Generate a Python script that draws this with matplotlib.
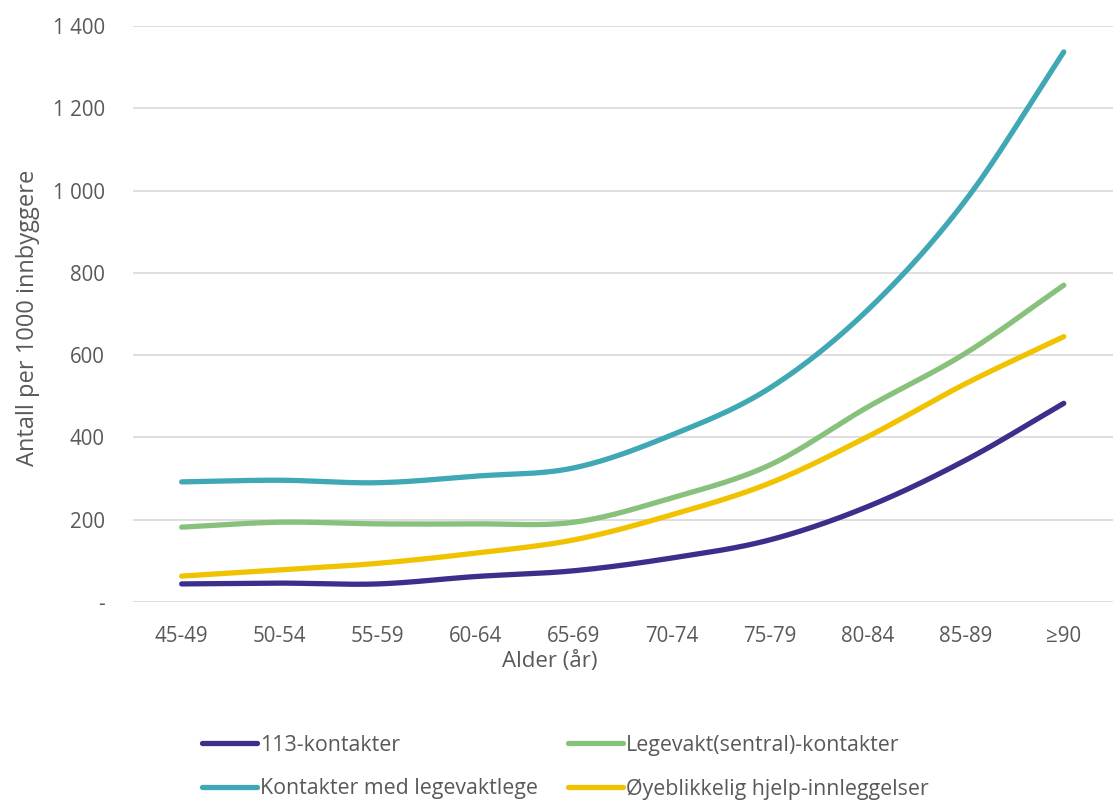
import numpy as np
import matplotlib.pyplot as plt
from matplotlib.ticker import FixedLocator, FuncFormatter

plt.rcParams['font.family'] = ['Open Sans', 'DejaVu Sans']

# Data
age_groups = ['45-49', '50-54', '55-59', '60-64', '65-69', '70-74', '75-79', '80-84', '85-89', '≥90']
kontakter_113 = [44, 46, 44, 62, 76, 107, 151, 232, 345, 483]
legevakt_sentral = [182, 194, 190, 190, 194, 253, 333, 474, 605, 770]
legevaktlege = [292, 296, 290, 306, 326, 406, 520, 710, 977, 1337]
oyeblikkelig = [63, 78, 94, 119, 151, 212, 289, 402, 531, 645]

# ordered column-wise so the legend reads row by row like the original
series = [
    ('113-kontakter', kontakter_113, '#3b2f8b'),
    ('Kontakter med legevaktlege', legevaktlege, '#40a8b4'),
    ('Legevakt(sentral)-kontakter', legevakt_sentral, '#88c17b'),
    ('Øyeblikkelig hjelp-innleggelser', oyeblikkelig, '#f1c200'),
]


def smooth(x, y, n=30):
    # Catmull-Rom curve through the points, similar to Excel's smoothed line
    x = np.asarray(x, float)
    y = np.asarray(y, float)
    px = np.concatenate([[2 * x[0] - x[1]], x, [2 * x[-1] - x[-2]]])
    py = np.concatenate([[2 * y[0] - y[1]], y, [2 * y[-1] - y[-2]]])
    xs, ys = [], []
    t = np.linspace(0, 1, n)
    for i in range(1, len(px) - 2):
        for p, out in ((px, xs), (py, ys)):
            p0, p1, p2, p3 = p[i - 1], p[i], p[i + 1], p[i + 2]
            c1 = p1 + (p2 - p0) / 6
            c2 = p2 - (p3 - p1) / 6
            out.extend((1 - t) ** 3 * p1 + 3 * (1 - t) ** 2 * t * c1 + 3 * (1 - t) * t ** 2 * c2 + t ** 3 * p2)
    return np.array(xs), np.array(ys)


fig = plt.figure(figsize=(11.15, 8.01), dpi=100)
ax = fig.add_axes([0.119, 0.2484, 0.879, 0.7191])

x = np.arange(len(age_groups))
for label, vals, color in series:
    sx, sy = smooth(x, vals)
    ax.plot(sx, sy, color=color, linewidth=3.8, solid_capstyle='round', label=label)

ax.set_xlim(-0.5, len(age_groups) - 0.5)
ax.set_ylim(0, 1400)
ax.yaxis.set_major_locator(FixedLocator(range(0, 1401, 200)))
ax.yaxis.set_major_formatter(FuncFormatter(
    lambda v, p: '-' if v == 0 else f'{int(v):,}'.replace(',', ' ')))
ax.set_xticks(x)
ax.set_xticklabels(age_groups)

ax.grid(axis='y', color='#d9d9d9', linewidth=1.2)
ax.set_axisbelow(True)
for s in ax.spines.values():
    s.set_visible(False)
ax.tick_params(axis='both', length=0, labelsize=14.8, colors='#595959')
ax.tick_params(axis='y', pad=20)
ax.tick_params(axis='x', pad=17)

fig.text(28 / 1115, 1 - 318 / 801, 'Antall per 1000 innbyggere', rotation=90,
         ha='center', va='center', fontsize=17, color='#595959')
fig.text(550 / 1115, 1 - 661 / 801, 'Alder (år)', ha='center', va='center',
         fontsize=16, color='#595959')

leg = fig.legend(loc='center', bbox_to_anchor=(0.507, 0.042), ncol=2, frameon=False,
                 fontsize=15.4, handlelength=2.6, handletextpad=0.12,
                 columnspacing=1.4, labelspacing=1.05)
for t in leg.get_texts():
    t.set_color('#595959')

fig.savefig('out.png', dpi=100)
